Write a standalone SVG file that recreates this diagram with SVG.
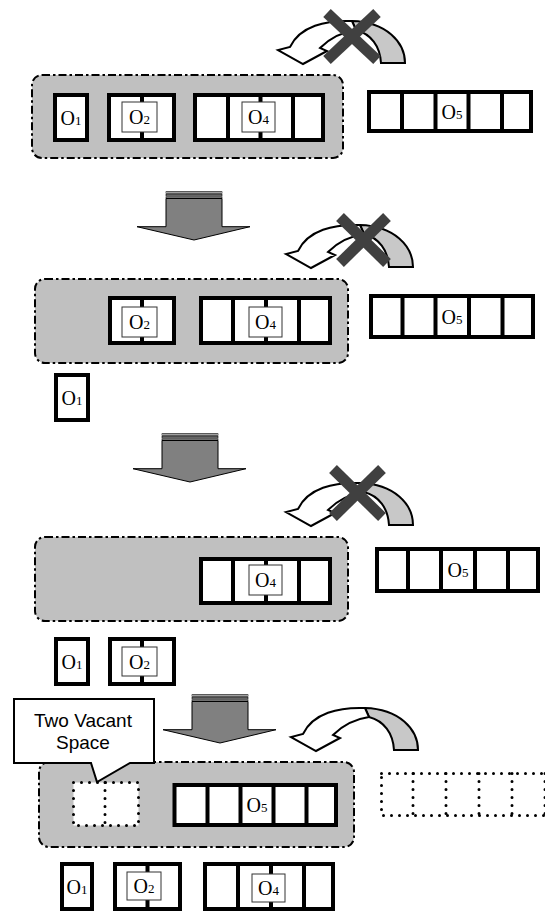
<svg xmlns="http://www.w3.org/2000/svg" xmlns:xlink="http://www.w3.org/1999/xlink" width="545" height="911" viewBox="0 0 545 911">
<style>
.grp{fill:#c0c0c0;stroke:#000;stroke-width:2;stroke-dasharray:8 3 2.5 3}
.box{fill:#fff;stroke:#000;stroke-width:4}
.div{stroke:#000;stroke-width:4}
.inner{fill:#fff;stroke:#333;stroke-width:1}
.dot{fill:#fff;stroke:#000;stroke-width:3;stroke-dasharray:0 8;stroke-linecap:round}
.dotl{fill:none;stroke:#000;stroke-width:3;stroke-dasharray:0 8;stroke-linecap:round}
.lbl{font-family:"Liberation Serif","Times New Roman",serif;font-size:20px;text-anchor:middle;fill:#000}
.sub{font-size:13px}
.x{stroke:#404040;stroke-width:11}
.ctext{font-family:"Liberation Sans",Arial,sans-serif;font-size:19px;text-anchor:middle;fill:#000}
.arrowline{stroke:#000;stroke-width:2;stroke-linejoin:miter}
</style>
<defs>
<g id="downArrow">
<rect x="166" y="191.7" width="56" height="1.6" fill="#a0a0a0" stroke="#000" stroke-width="0.6"/>
<rect x="166" y="194.3" width="56" height="1.6" fill="#a0a0a0" stroke="#000" stroke-width="0.6"/>
<rect x="166" y="196.8" width="56" height="1.3" fill="#a0a0a0" stroke="#000" stroke-width="0.6"/>
<path d="M166,198.5 L222,198.5 L222,226.7 L250,226.7 L194,240 L137,226.7 L166,226.7 Z" fill="#808080" stroke="#000" stroke-width="1"/>
</g>
<g id="curvedArrow" class="arrowline">
<path d="M74,-29 C108,-28 127,-8 127,13 L103,13 C102,-4 93,-16 78,-20 Z" fill="#c8c8c8"/>
<path d="M74,-29 C48,-30 22,-24 12,-3 L0,0 L25,14 L49,1 L42,-2 C52,-12 64,-18 78,-20 Z" fill="#fff"/>
</g>
</defs>

<g id="connectors">
<use xlink:href="#downArrow"/>
<use xlink:href="#downArrow" transform="translate(-4,242)"/>
<use xlink:href="#downArrow" transform="translate(26,503)"/>
<use xlink:href="#curvedArrow" transform="translate(278,50)"/>
<use xlink:href="#curvedArrow" transform="translate(286,254)"/>
<use xlink:href="#curvedArrow" transform="translate(286,512)"/>
<use xlink:href="#curvedArrow" transform="translate(291,737)"/>
<g id="cross1"><line class="x" x1="327" y1="13" x2="377" y2="60"/><line class="x" x1="377" y1="13" x2="327" y2="60"/></g>
<g id="cross2"><line class="x" x1="340" y1="217" x2="387" y2="263"/><line class="x" x1="387" y1="217" x2="340" y2="263"/></g>
<g id="cross3"><line class="x" x1="333" y1="469" x2="382" y2="517"/><line class="x" x1="382" y1="469" x2="333" y2="517"/></g>
</g>

<!-- Row 1 -->
<g id="row1-group"><rect class="grp" x="32" y="75" width="311" height="83" rx="10"/></g>
<g id="row1-o1"><rect class="box" x="55" y="95" width="32" height="45"/><text class="lbl" x="71" y="124.5">O<tspan class="sub">1</tspan></text></g>
<g id="row1-o2"><rect class="box" x="109" y="95" width="65" height="45"/><line class="div" x1="142" y1="95" x2="142" y2="140"/><rect class="inner" x="122" y="102" width="35" height="30"/><text class="lbl" x="139.5" y="124">O<tspan class="sub">2</tspan></text></g>
<g id="row1-o4"><rect class="box" x="195" y="95" width="128" height="45"/><line class="div" x1="228" y1="95" x2="228" y2="140"/><line class="div" x1="260.5" y1="95" x2="260.5" y2="140"/><line class="div" x1="293" y1="95" x2="293" y2="140"/><rect class="inner" x="242" y="102" width="33" height="30"/><text class="lbl" x="258.5" y="124">O<tspan class="sub">4</tspan></text></g>
<g id="row1-o5"><rect class="box" x="369" y="92" width="162" height="39"/><line class="div" x1="402" y1="92" x2="402" y2="131"/><line class="div" x1="435.5" y1="92" x2="435.5" y2="131"/><line class="div" x1="468.5" y1="92" x2="468.5" y2="131"/><line class="div" x1="502" y1="92" x2="502" y2="131"/><text class="lbl" x="452" y="118.5">O<tspan class="sub">5</tspan></text></g>

<!-- Row 2 -->
<g id="row2-group"><rect class="grp" x="35" y="279" width="313" height="84" rx="10"/></g>
<g id="row2-o2"><rect class="box" x="110" y="298" width="64" height="45"/><line class="div" x1="142" y1="298" x2="142" y2="343"/><rect class="inner" x="122" y="307" width="35" height="30"/><text class="lbl" x="139.5" y="329">O<tspan class="sub">2</tspan></text></g>
<g id="row2-o4"><rect class="box" x="201" y="298" width="129" height="45"/><line class="div" x1="233" y1="298" x2="233" y2="343"/><line class="div" x1="266" y1="298" x2="266" y2="343"/><line class="div" x1="299" y1="298" x2="299" y2="343"/><rect class="inner" x="249" y="307" width="33" height="30"/><text class="lbl" x="265.5" y="329">O<tspan class="sub">4</tspan></text></g>
<g id="row2-o5"><rect class="box" x="371" y="296" width="162" height="41"/><line class="div" x1="402.5" y1="296" x2="402.5" y2="337"/><line class="div" x1="435.5" y1="296" x2="435.5" y2="337"/><line class="div" x1="469" y1="296" x2="469" y2="337"/><line class="div" x1="502.5" y1="296" x2="502.5" y2="337"/><text class="lbl" x="452" y="323.5">O<tspan class="sub">5</tspan></text></g>
<g id="row2-o1"><rect class="box" x="56" y="375" width="32" height="45"/><text class="lbl" x="72" y="404.5">O<tspan class="sub">1</tspan></text></g>

<!-- Row 3 -->
<g id="row3-group"><rect class="grp" x="35" y="537" width="313" height="84" rx="10"/></g>
<g id="row3-o4"><rect class="box" x="201" y="559" width="129" height="44"/><line class="div" x1="233" y1="559" x2="233" y2="603"/><line class="div" x1="266" y1="559" x2="266" y2="603"/><line class="div" x1="299" y1="559" x2="299" y2="603"/><rect class="inner" x="249" y="565" width="33" height="30"/><text class="lbl" x="265.5" y="587">O<tspan class="sub">4</tspan></text></g>
<g id="row3-o5"><rect class="box" x="377" y="549" width="161" height="42"/><line class="div" x1="408" y1="549" x2="408" y2="591"/><line class="div" x1="441" y1="549" x2="441" y2="591"/><line class="div" x1="475" y1="549" x2="475" y2="591"/><line class="div" x1="508" y1="549" x2="508" y2="591"/><text class="lbl" x="458" y="577">O<tspan class="sub">5</tspan></text></g>
<g id="row3-o1"><rect class="box" x="56" y="639" width="32" height="45"/><text class="lbl" x="72" y="668.5">O<tspan class="sub">1</tspan></text></g>
<g id="row3-o2"><rect class="box" x="110" y="639" width="64" height="45"/><line class="div" x1="142" y1="639" x2="142" y2="684"/><rect class="inner" x="122" y="647" width="35" height="29"/><text class="lbl" x="139.5" y="668.5">O<tspan class="sub">2</tspan></text></g>

<!-- Row 4 -->
<g id="row4-group"><rect class="grp" x="39" y="762" width="315" height="85" rx="10"/></g>
<g id="callout"><path d="M14,699 L154,699 L154,763 L130,763 L97,782 L91,763 L14,763 Z" fill="#fff" stroke="#000" stroke-width="2"/><text class="ctext" x="83" y="727">Two Vacant</text><text class="ctext" x="83" y="749">Space</text></g>
<g id="row4-vacant"><rect class="dot" x="73.5" y="782.5" width="65" height="43"/><line class="dotl" x1="105" y1="782.5" x2="105" y2="825.5"/></g>
<g id="row4-o5"><rect class="box" x="174.5" y="785" width="161.5" height="40"/><line class="div" x1="207.5" y1="785" x2="207.5" y2="825"/><line class="div" x1="240.5" y1="785" x2="240.5" y2="825"/><line class="div" x1="273.5" y1="785" x2="273.5" y2="825"/><line class="div" x1="306.5" y1="785" x2="306.5" y2="825"/><text class="lbl" x="257" y="812">O<tspan class="sub">5</tspan></text></g>
<g id="row4-empty"><rect class="dot" x="381.5" y="773.5" width="200" height="42"/><line class="dotl" x1="413" y1="773.5" x2="413" y2="815.5"/><line class="dotl" x1="446" y1="773.5" x2="446" y2="815.5"/><line class="dotl" x1="479" y1="773.5" x2="479" y2="815.5"/><line class="dotl" x1="512" y1="773.5" x2="512" y2="815.5"/><line class="dotl" x1="545" y1="773.5" x2="545" y2="815.5"/></g>
<g id="row4-o1"><rect class="box" x="62" y="864" width="30" height="45"/><text class="lbl" x="77" y="893.5">O<tspan class="sub">1</tspan></text></g>
<g id="row4-o2"><rect class="box" x="115" y="864" width="65" height="45"/><line class="div" x1="147.5" y1="864" x2="147.5" y2="909"/><rect class="inner" x="127" y="872" width="34" height="28"/><text class="lbl" x="144" y="893">O<tspan class="sub">2</tspan></text></g>
<g id="row4-o4"><rect class="box" x="205" y="864" width="128" height="45"/><line class="div" x1="238" y1="864" x2="238" y2="909"/><line class="div" x1="271" y1="864" x2="271" y2="909"/><line class="div" x1="304" y1="864" x2="304" y2="909"/><rect class="inner" x="252" y="874" width="33" height="28"/><text class="lbl" x="268.5" y="895">O<tspan class="sub">4</tspan></text></g>
</svg>
